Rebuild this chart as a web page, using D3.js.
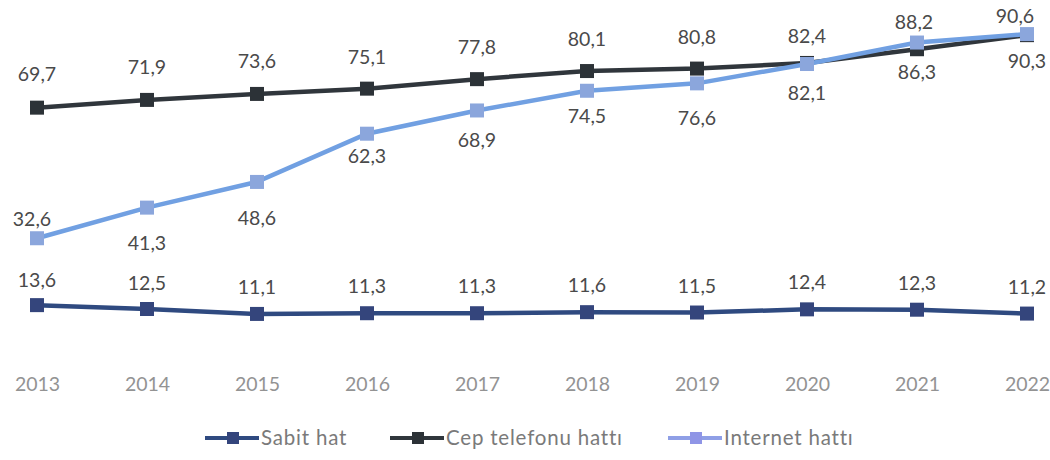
<!DOCTYPE html>
<html>
<head>
<meta charset="utf-8">
<script src="https://cdn.jsdelivr.net/npm/d3@7"></script>
<style>
  body { margin: 0; background: #fff; }
  .chart { width: 1050px; height: 460px; }
  text { font-family: Lato, "Open Sans", sans-serif; }
</style>
</head>
<body>
<div class="chart"></div>
<script>
// veriler
const years = ['2013', '2014', '2015', '2016', '2017', '2018', '2019', '2020', '2021', '2022']
const seriesNames = ['Sabit hat', 'Cep telefonu hattı', 'Internet hattı']
const sabitHat = [13.6, 12.5, 11.1, 11.3, 11.3, 11.6, 11.5, 12.4, 12.3, 11.2]
const cepHatti = [69.7, 71.9, 73.6, 75.1, 77.8, 80.1, 80.8, 82.4, 86.3, 90.3]
const internetHatti = [32.6, 41.3, 48.6, 62.3, 68.9, 74.5, 76.6, 82.1, 88.2, 90.6]

// etiket yerleşimi (noktaya göre kaydırma)
const sabitLabelDy = [-25, -26, -27, -27, -27, -27, -27, -27, -27, -27]
const cepLabelDy = [-34, -33, -33, -32, -32, -32, -32, -27, 23, 26]
const internetLabelDy = [-19, 35, 36, 22, 30, 25, 35, 29, -21, -18]
const internetLabelDx = [-5, 0, 0, 0, 0, 0, 0, 0, -3, -12]

function drawChart() {
    d3.select('.chart svg').remove()

    const width = 1050,
          height = 460

    const svg = d3.select('.chart')
                  .append('svg')
                  .attr('width', width)
                  .attr('height', height)

    const xScale = d3.scalePoint()
                     .domain(years)
                     .range([37, 1027])

    const yScale = d3.scaleLinear()
                     .domain([0, 100])
                     .range([353, 1])

    // x ekseni (sadece yıllar)
    const xAxis = d3.axisBottom(xScale).tickSize(0).tickPadding(0)
    const xAxisGroup = svg.append('g')
                          .attr('transform', 'translate(0,377)')
                          .call(xAxis)
    xAxisGroup.select('.domain').remove()
    xAxisGroup.selectAll('text')
              .attr('dy', '0.71em')
              .style('font-size', '19.5px')
              .style('fill', '#939393')
              .style('font-family', 'Lato, sans-serif')

    const series = [
        { name: seriesNames[0], values: sabitHat, line: '#2f4a80', marker: '#34457c', dy: sabitLabelDy, dx: null },
        { name: seriesNames[1], values: cepHatti, line: '#30363c', marker: '#2c3237', dy: cepLabelDy, dx: null },
        { name: seriesNames[2], values: internetHatti, line: '#71a0e2', marker: '#8ba6dc', dy: internetLabelDy, dx: internetLabelDx }
    ]

    const line = d3.line()
                   .x((d, i) => xScale(years[i]))
                   .y(d => yScale(d))

    const groups = svg.append('g')
                      .selectAll('g')
                      .data(series)
                      .join('g')

    groups.append('path')
          .attr('d', d => line(d.values))
          .attr('fill', 'none')
          .attr('stroke', d => d.line)
          .attr('stroke-width', 4.5)

    groups.selectAll('rect')
          .data(d => d.values.map((v, i) => ({ v: v, i: i, s: d })))
          .join('rect')
          .attr('x', d => xScale(years[d.i]) - 7)
          .attr('y', d => yScale(d.v) - 7)
          .attr('width', 14)
          .attr('height', 14)
          .attr('fill', d => d.s.marker)

    // veri etiketleri
    series.forEach(s => {
        svg.append('g')
           .selectAll('text')
           .data(s.values)
           .join('text')
           .attr('x', (d, i) => xScale(years[i]) + (s.dx ? s.dx[i] : 0))
           .attr('y', (d, i) => yScale(d) + s.dy[i])
           .attr('dy', '0.36em')
           .style('text-anchor', 'middle')
           .style('font-size', '19.5px')
           .style('fill', '#4a4a4a')
           .text(d => d3.format('.1f')(d).replace('.', ','))
    })

    // lejant
    const legendX = [205, 390, 668]
    const legend = svg.append('g')
                      .selectAll('g')
                      .data(series)
                      .join('g')
                      .attr('transform', (d, i) => `translate(${legendX[i]},438)`)

    legend.append('line')
          .attr('x1', 0)
          .attr('x2', 54)
          .attr('stroke', (d, i) => i === 2 ? '#8f9fe6' : d.line)
          .attr('stroke-width', 4)
    legend.append('rect')
          .attr('x', 22)
          .attr('y', -6)
          .attr('width', 12)
          .attr('height', 12)
          .attr('fill', (d, i) => i === 2 ? '#8f95e6' : d.marker)
    legend.append('text')
          .attr('x', 56)
          .attr('dy', '0.36em')
          .style('font-size', '20.5px')
          .style('letter-spacing', '0.8px')
          .style('fill', '#7a7a7a')
          .text(d => d.name)
}

drawChart()
</script>
</body>
</html>
